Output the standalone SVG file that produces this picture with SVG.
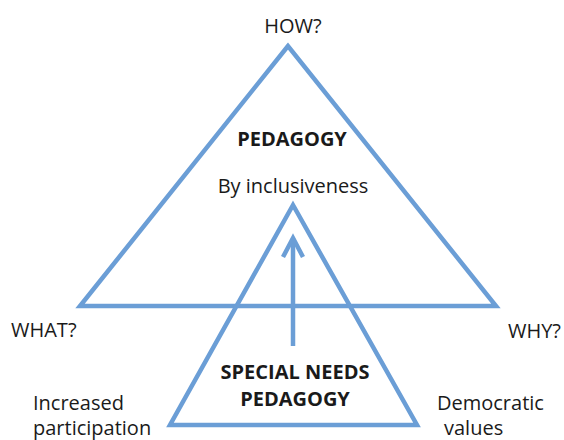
<svg xmlns="http://www.w3.org/2000/svg" width="564" height="440" viewBox="0 0 564 440">
<style>
.tri{fill:none;stroke:#6b9ed6;stroke-width:4.5;stroke-linejoin:miter}
.t{font-family:"Open Sans","Liberation Sans",sans-serif;font-size:20px;fill:#1a1a1a}
.b{font-weight:bold}
.c{text-anchor:middle}
.e{text-anchor:end}
.conn{fill:none;stroke:#6b9ed6;stroke-width:4.5;stroke-linejoin:miter}
</style>
<rect width="564" height="440" fill="#ffffff"/>
<g id="pedagogy">
<polygon class="tri" points="288,46 80,306 496,306"/>
<text class="t b c" x="292" y="146">PEDAGOGY</text>
<text class="t c" x="293" y="193">By inclusiveness</text>
</g>
<g id="special-needs">
<polygon class="tri" points="293,205 170,425 417,425"/>
<text class="t b c" x="295" y="379">SPECIAL NEEDS</text>
<text class="t b c" x="295" y="406">PEDAGOGY</text>
</g>
<g id="how"><text class="t c" x="293" y="33">HOW?</text></g>
<g id="what"><text class="t" x="11" y="337">WHAT?</text></g>
<g id="why"><text class="t e" x="561" y="338">WHY?</text></g>
<g id="increased"><text class="t" x="33" y="410">Increased</text><text class="t" x="33" y="435">participation</text></g>
<g id="democratic"><text class="t" x="437" y="410">Democratic</text><text class="t" x="444" y="435">values</text></g>
<g id="connectors">
<line class="conn" x1="293" y1="346" x2="293" y2="240"/>
<polyline class="conn" points="283,257 293,238 303,257"/>
</g>
</svg>
